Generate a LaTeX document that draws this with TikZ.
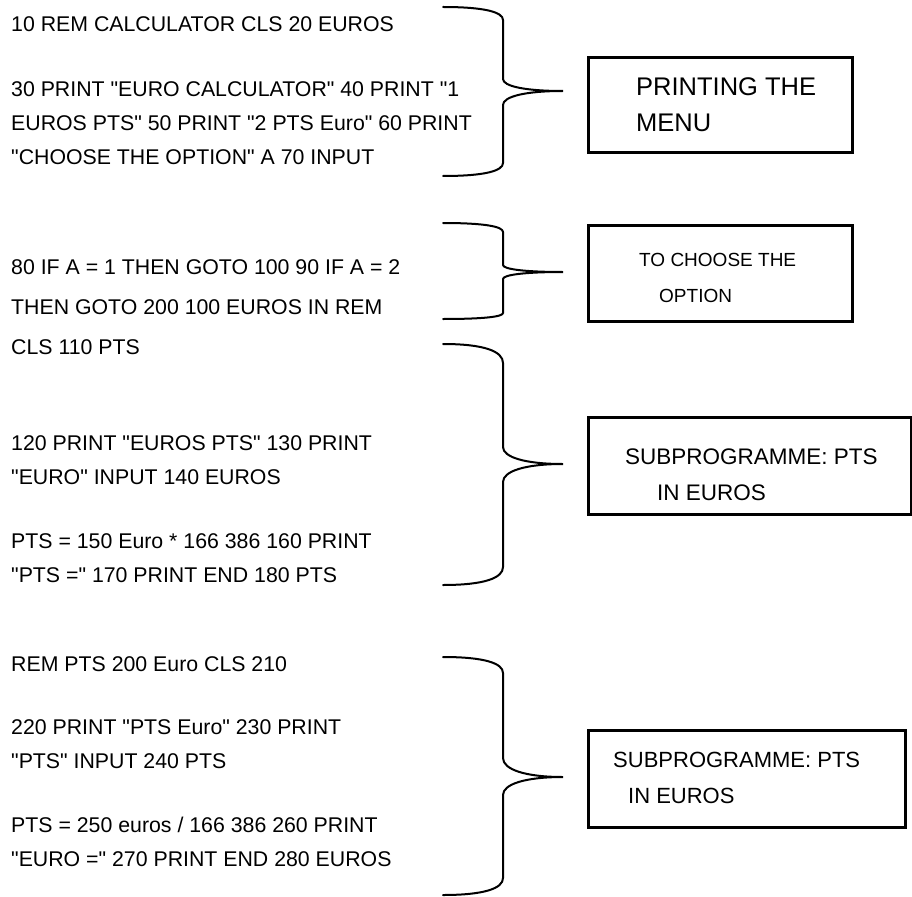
\documentclass[tikz,border=0pt]{standalone}
\usepackage{fontspec}
\setmainfont{Liberation Sans}[Ligatures=TeXOff]
% #1 top end, #2/#3 upper straight part, #4 tip,
% #5/#6 lower straight part, #7 bottom end
\newcommand\curlybrace[7]{%
  \draw[bracestroke] (443,#1) .. controls (485,#1) and (503,{#1+0.4*(#2-#1)}) .. (503,#2)
    -- (503,#3) .. controls (503,{#3+0.6*(#4-#3)}) and (525,#4) .. (563,#4)
    .. controls (525,#4) and (503,{#5-0.6*(#5-#4)}) .. (503,#5)
    -- (503,#6) .. controls (503,{#6+0.6*(#7-#6)}) and (485,#7) .. (443,#7);}
\begin{document}
\begin{tikzpicture}[x=1pt,y=-1pt,
  code/.style={anchor=base west, inner sep=0pt, font=\fontsize{21.3}{25}\selectfont},
  boxtext/.style={anchor=base west, inner sep=0pt},
  frame/.style={draw, line width=3pt, anchor=north west, inner sep=0pt},
  bracestroke/.style={line width=2pt, line cap=round}]
\useasboundingbox (0,0) rectangle (912,896);

% program listing
\node[code] (l1) at (11,32) {10 REM CALCULATOR CLS 20 EUROS};
\node[code] (l2) at (11,97) {30 PRINT "EURO CALCULATOR" 40 PRINT "1};
\node[code] (l3) at (11,131) {EUROS PTS" 50 PRINT "2 PTS Euro" 60 PRINT};
\node[code] (l4) at (11,165) {"CHOOSE THE OPTION" A 70 INPUT};

\node[code] (l5) at (11,274) {80 IF A = 1 THEN GOTO 100 90 IF A = 2};
\node[code] (l6) at (11,314) {THEN GOTO 200 100 EUROS IN REM};
\node[code] (l7) at (11,354) {CLS 110 PTS};

\node[code] (l8) at (11,450) {120 PRINT "EUROS PTS" 130 PRINT};
\node[code] (l9) at (11,484) {"EURO" INPUT 140 EUROS};
\node[code] (l10) at (11,548) {PTS = 150 Euro * 166 386 160 PRINT};
\node[code] (l11) at (11,582) {"PTS =" 170 PRINT END 180 PTS};

\node[code] (l12) at (11,671) {REM PTS 200 Euro CLS 210};
\node[code] (l13) at (11,734) {220 PRINT "PTS Euro" 230 PRINT};
\node[code] (l14) at (11,768) {"PTS" INPUT 240 PTS};
\node[code] (l15) at (11,832) {PTS = 250 euros / 166 386 260 PRINT};
\node[code] (l16) at (11,866) {"EURO =" 270 PRINT END 280 EUROS};

% braces grouping the listing
\curlybrace{7}{20}{79}{91}{105}{163}{176}
\curlybrace{223}{232}{265}{272}{279}{313}{319}
\curlybrace{344}{363}{447}{464}{482}{567}{585}
\curlybrace{657}{673}{758}{777}{795}{878}{895}

% description boxes
\node[frame, minimum width=264pt, minimum height=95pt] (b1) at (587,56) {};
\node[boxtext, font=\fontsize{25.5}{30}\selectfont] (b1a) at (636,96) {PRINTING THE};
\node[boxtext, font=\fontsize{25.5}{30}\selectfont] (b1b) at (636,132) {MENU};

\node[frame, minimum width=264pt, minimum height=96pt] (b2) at (587,224) {};
\node[boxtext, font=\fontsize{19}{23}\selectfont] (b2a) at (639,266) {TO CHOOSE THE};
\node[boxtext, font=\fontsize{19}{23}\selectfont] (b2b) at (659,302) {OPTION};

\node[frame, minimum width=323pt, minimum height=97pt] (b3) at (587,416) {};
\node[boxtext, font=\fontsize{22.5}{27}\selectfont] (b3a) at (625,464) {SUBPROGRAMME: PTS};
\node[boxtext, font=\fontsize{22.5}{27}\selectfont] (b3b) at (657,500) {IN EUROS};

\node[frame, minimum width=317pt, minimum height=97pt] (b4) at (587,729) {};
\node[boxtext, font=\fontsize{22}{26}\selectfont] (b4a) at (613,767) {SUBPROGRAMME: PTS};
\node[boxtext, font=\fontsize{22}{26}\selectfont] (b4b) at (628,803) {IN EUROS};
\end{tikzpicture}
\end{document}
